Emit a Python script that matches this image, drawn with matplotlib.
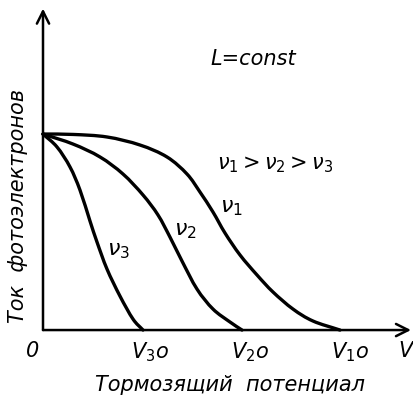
import matplotlib
matplotlib.use("Agg")
import matplotlib.pyplot as plt
from matplotlib.path import Path
from matplotlib.patches import PathPatch
import numpy as np

plt.rcParams['font.family'] = ['DejaVu Sans']
plt.rcParams['mathtext.fontset'] = 'dejavusans'

# retarding potential (in units of V30) and photocurrent (saturation = 1)
nu1_x = [0, 0.30, 0.64, 0.97, 1.24, 1.44, 1.57, 1.70, 1.82, 1.97, 2.14, 2.30, 2.50, 2.70, 2.97]
nu1_y = [1.0, 0.998, 0.985, 0.944, 0.883, 0.796, 0.704, 0.602, 0.495, 0.383, 0.281, 0.194, 0.107, 0.046, 0.0]

nu2_x = [0, 0.30, 0.57, 0.80, 1.00, 1.15, 1.27, 1.39, 1.54, 1.70, 1.87, 1.99]
nu2_y = [1.0, 0.949, 0.883, 0.796, 0.689, 0.587, 0.474, 0.352, 0.209, 0.107, 0.041, 0.0]

nu3_x = [0, 0.14, 0.27, 0.37, 0.47, 0.54, 0.64, 0.77, 0.90, 1.00]
nu3_y = [1.0, 0.934, 0.832, 0.714, 0.556, 0.449, 0.311, 0.173, 0.056, 0.0]

stop_pos = [1.0, 2.0, 3.0]
stop_labels = [r'$V_{3}$o', r'$V_{2}$o', r'$V_{1}$o']


def smooth_path(xs, ys):
    # Catmull-Rom through the points, written as cubic Bezier segments
    p = np.column_stack([xs, ys])
    ext = np.vstack([2 * p[0] - p[1], p, 2 * p[-1] - p[-2]])
    verts = [p[0]]
    codes = [Path.MOVETO]
    for i in range(1, len(ext) - 2):
        p0, p1, p2, p3 = ext[i - 1], ext[i], ext[i + 1], ext[i + 2]
        verts += [p1 + (p2 - p0) / 6, p2 - (p3 - p1) / 6, p2]
        codes += [Path.CURVE4] * 3
    return Path(verts, codes)


fig = plt.figure(figsize=(4.13, 4.02), dpi=100)
ax = fig.add_axes([0, 0, 1, 1])
ax.set_xlim(-0.43, 3.70)
ax.set_ylim(-0.362, 1.689)
ax.axis('off')

for xs, ys in [(nu1_x, nu1_y), (nu2_x, nu2_y), (nu3_x, nu3_y)]:
    ax.add_patch(PathPatch(smooth_path(xs, ys), fill=False, color='black',
                           lw=2.4, capstyle='round', joinstyle='round'))

# axes with open arrowheads
arrow = dict(arrowstyle='->', color='black', lw=1.8, mutation_scale=22,
             shrinkA=0, shrinkB=0)
ax.annotate('', xy=(3.68, 0), xytext=(0, 0), arrowprops=arrow)
ax.annotate('', xy=(0, 1.64), xytext=(0, 0), arrowprops=arrow)

tk = dict(style='italic', fontsize=15, color='black')
ax.text(-0.10, -0.10, '0', ha='center', va='center', **tk)
ax.text(3.62, -0.10, 'V', ha='center', va='center', **tk)
for xp, lab in zip(stop_pos, stop_labels):
    ax.text(xp + 0.07, -0.11, lab, ha='center', va='center', **tk)

ax.text(1.87, -0.275, 'Тормозящий  потенциал', ha='center', va='center', **tk)
ax.text(-0.25, 0.64, 'Ток  фотоэлектронов', ha='center', va='center',
        rotation=90, **tk)

ax.text(2.10, 1.39, 'L=const', ha='center', va='center', **tk)
ax.text(2.32, 0.85, r'$\nu_1 > \nu_2 > \nu_3$', ha='center', va='center', fontsize=15)
ax.text(1.88, 0.63, r'$\nu_1$', ha='center', va='center', fontsize=16)
ax.text(1.42, 0.51, r'$\nu_2$', ha='center', va='center', fontsize=16)
ax.text(0.75, 0.41, r'$\nu_3$', ha='center', va='center', fontsize=16)

fig.savefig('out.png', dpi=100)
